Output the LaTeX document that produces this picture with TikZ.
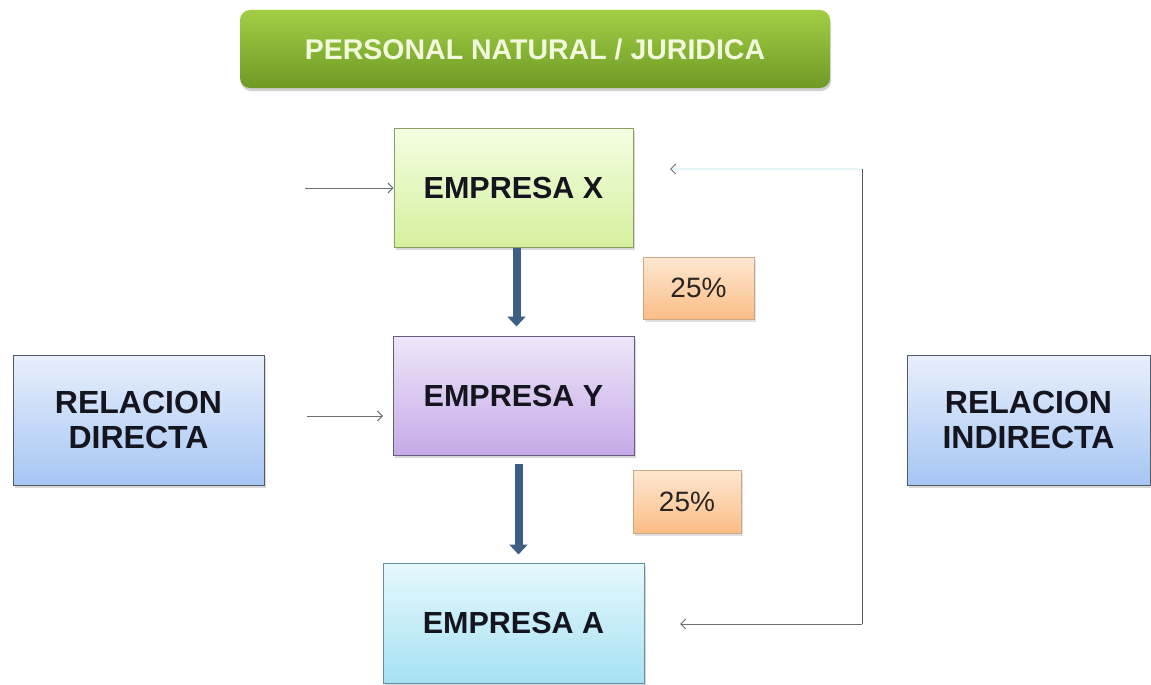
\documentclass[tikz,border=0pt]{standalone}
\usepackage{fontspec}
\setmainfont{Liberation Sans}
\usetikzlibrary{arrows.meta,shadows}
\definecolor{txt}{HTML}{151520}
\definecolor{pcttxt}{HTML}{2A2420}
\definecolor{bartop}{HTML}{A2CE45}
\definecolor{barbot}{HTML}{6E9A25}
\definecolor{bartxt}{HTML}{F2F9DC}
\definecolor{xtop}{HTML}{F4FDE2}
\definecolor{xbot}{HTML}{D4F19E}
\definecolor{xdraw}{HTML}{8A9E60}
\definecolor{ytop}{HTML}{EEE6F9}
\definecolor{ybot}{HTML}{C6AAE8}
\definecolor{ydraw}{HTML}{665E7E}
\definecolor{atop}{HTML}{E6F8FC}
\definecolor{abot}{HTML}{A6E2F4}
\definecolor{adraw}{HTML}{6690A0}
\definecolor{rtop}{HTML}{E8EFFC}
\definecolor{rbot}{HTML}{A6C6F4}
\definecolor{rdraw}{HTML}{505A68}
\definecolor{ptop}{HTML}{FDE8D0}
\definecolor{pbot}{HTML}{FBBD86}
\definecolor{pdraw}{HTML}{C8A888}
\definecolor{thickc}{HTML}{3E5F85}
\definecolor{thinc}{HTML}{6A7278}
\definecolor{loopc}{HTML}{555C64}
\definecolor{faintc}{HTML}{E6F6F6}
\begin{document}
\begin{tikzpicture}[x=1pt,y=-1pt,
  box/.style={draw, line width=1pt, inner sep=0pt, align=center, text=txt,
    font=\fontsize{30.5}{35}\selectfont\bfseries,
    drop shadow={shadow xshift=2pt, shadow yshift=-3pt, opacity=0.25, fill=black!60}},
  relbox/.style={box, top color=rtop, bottom color=rbot, draw=rdraw,
    font=\fontsize{32}{35}\selectfont\bfseries},
  pctbox/.style={draw=pdraw, line width=0.8pt, inner sep=0pt, text=pcttxt,
    top color=ptop, bottom color=pbot,
    font=\fontsize{28}{30}\selectfont,
    drop shadow={shadow xshift=2pt, shadow yshift=-3pt, opacity=0.2, fill=black!60}},
  topbar/.style={rounded corners=10pt, inner sep=0pt, top color=bartop, bottom color=barbot,
    text=bartxt, font=\fontsize{28.5}{30}\selectfont\bfseries,
    drop shadow={shadow xshift=1pt, shadow yshift=-3pt, opacity=0.3, fill=black!60}},
  thickarrow/.style={draw=thickc, line width=8pt, -{Triangle[width=18pt,length=10pt]}},
  thinarrow/.style={draw=thinc, line width=0.9pt, -{Straight Barb[length=5pt,width=10pt]}},
  loopline/.style={draw=loopc, line width=1pt},
  faintline/.style={draw=faintc, line width=1.5pt, -{Straight Barb[length=5pt,width=10pt,color=thinc,line width=1pt]}}
]
\useasboundingbox (0,0) rectangle (1151,685);
\fill[white] (0,0) rectangle (1151,685);

% top bar
\node[topbar, minimum width=590pt, minimum height=78pt] (top) at (535,49) {PERSONAL NATURAL / JURIDICA};

% companies
\node[box, top color=xtop, bottom color=xbot, draw=xdraw, minimum width=239pt, minimum height=119pt] (X) at (513.5,187.5) {EMPRESA X};
\node[box, top color=ytop, bottom color=ybot, draw=ydraw, minimum width=241pt, minimum height=119pt] (Y) at (513.5,395.5) {EMPRESA Y};
\node[box, top color=atop, bottom color=abot, draw=adraw, minimum width=261pt, minimum height=120pt] (A) at (513.5,623) {EMPRESA A};

% relation boxes
\node[relbox, minimum width=251pt, minimum height=130pt] (RD) at (138.5,420) {RELACION\\DIRECTA};
\node[relbox, minimum width=243pt, minimum height=130pt] (RI) at (1028.5,420) {RELACION\\INDIRECTA};

% percentage boxes
\node[pctbox, minimum width=111pt, minimum height=62pt] (P1) at (698.5,288) {25\%};
\node[pctbox, minimum width=108pt, minimum height=63pt] (P2) at (687,501.5) {25\%};

% thick arrows
\draw[thickarrow, shorten >=9pt] ([xshift=3pt]X.south) -- ([xshift=3pt]Y.north);
\draw[thickarrow, shorten <=8pt, shorten >=8pt] ([xshift=5pt]Y.south) -- ([xshift=5pt]A.north);

% thin left arrows
\coordinate (lx) at (305,188);
\coordinate (ly) at (307,416);
\coordinate (ly2) at (383,416);
\draw[thinarrow] (lx) -- (lx -| X.west);
\draw[thinarrow] (ly) -- (ly2);

% right loop
\coordinate (c1) at (862,169);
\coordinate (c2) at (862,624);
\coordinate (xin) at (670,169);
\coordinate (ain) at (680,624);
\draw[faintline] (c1) -- (xin);
\draw[loopline] (c1) -- (c2);
\draw[thinarrow] (c2) -- (ain);
\end{tikzpicture}
\end{document}
